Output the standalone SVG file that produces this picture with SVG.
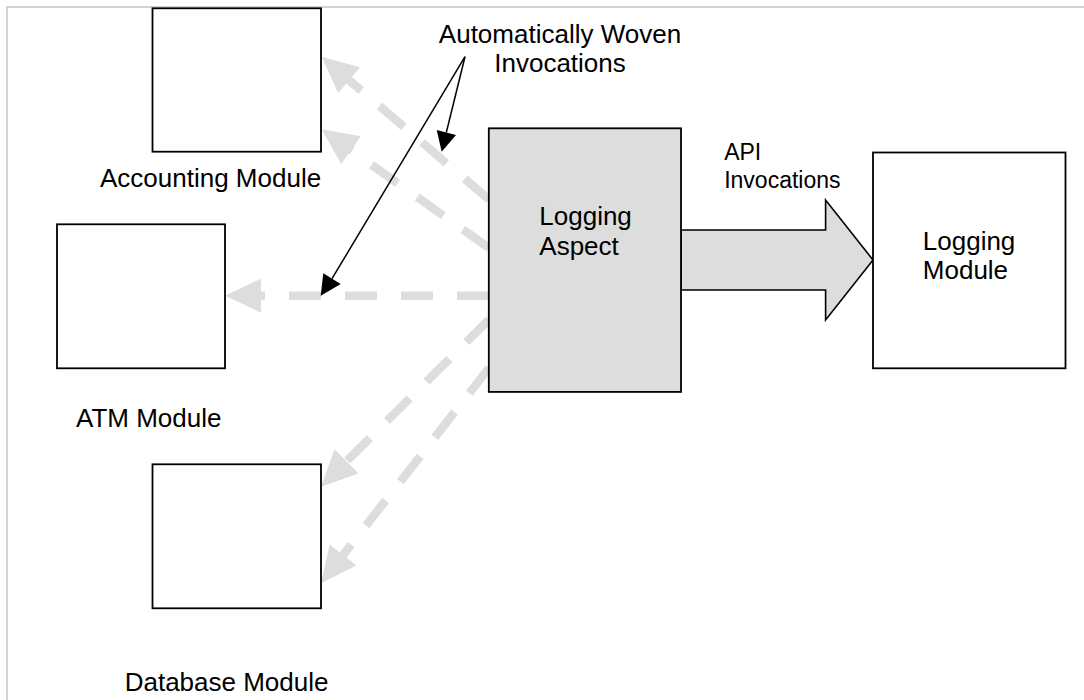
<svg xmlns="http://www.w3.org/2000/svg" width="1084" height="700" viewBox="0 0 1084 700">
  <style>
    .frame { fill: none; stroke: #c8c8c8; stroke-width: 1.6; }
    .box { fill: #ffffff; stroke: #000000; stroke-width: 1.8; }
    .aspect { fill: #dddddd; stroke: #000000; stroke-width: 1.8; }
    .label { font-family: "Liberation Sans", Arial, sans-serif; font-size: 26px; fill: #000000; }
    .small { font-size: 23px; }
    .woven { fill: none; stroke: #dddddd; stroke-width: 8.5; stroke-dasharray: 32 24; }
    .woven-head { fill: #dddddd; stroke: none; }
    .callout { fill: none; stroke: #000000; stroke-width: 1.5; }
    .callout-head { fill: #000000; stroke: none; }
    .api { fill: #dddddd; stroke: #000000; stroke-width: 1.6; stroke-linejoin: miter; }
  </style>

  <!-- page frame -->
  <rect class="frame" x="7" y="7" width="1100" height="720"/>

  <g id="connectors">
    <!-- woven invocations from the aspect to each module -->
    <line class="woven" x1="489" y1="199.5" x2="344.5" y2="76.2"/>
    <polygon class="woven-head" points="321.7,56.7 360.1,67.2 338.1,93.0"/>

    <line class="woven" x1="489" y1="248" x2="346.2" y2="146.7"/>
    <polygon class="woven-head" points="321.7,129.3 360.9,136.2 341.2,164.0"/>

    <line class="woven" x1="489" y1="295.7" x2="255" y2="295.7"/>
    <polygon class="woven-head" points="225,295.7 261,278.7 261,312.7"/>

    <line class="woven" x1="489" y1="319.5" x2="342.3" y2="465.5"/>
    <polygon class="woven-head" points="321,486.7 334.5,449.3 358.5,473.4"/>

    <line class="woven" x1="489" y1="368" x2="339.5" y2="559.6"/>
    <polygon class="woven-head" points="321,583.3 329.7,544.4 356.5,565.4"/>

    <!-- callout pointers for the woven-invocation label -->
    <line class="callout" x1="465" y1="56.7" x2="332" y2="278.7"/>
    <polygon class="callout-head" points="320.7,295.7 323.3,273.3 340.7,284"/>
    <line class="callout" x1="465" y1="56.7" x2="446.3" y2="132.5"/>
    <polygon class="callout-head" points="441.7,151.7 436.7,130 456,135"/>

    <!-- explicit API call: block arrow -->
    <polygon class="api" points="681,230 825.6,230 825.6,200 873,260 825.6,320 825.6,290 681,290"/>
  </g>

  <g id="accounting-module">
    <rect class="box" x="152.5" y="8.3" width="168.5" height="143.4"/>
    <text class="label" x="100" y="187">Accounting Module</text>
  </g>

  <g id="atm-module">
    <rect class="box" x="57" y="224.3" width="168" height="144"/>
    <text class="label" x="76" y="426.7">ATM Module</text>
  </g>

  <g id="database-module">
    <rect class="box" x="152.5" y="464.3" width="168.5" height="144"/>
    <text class="label" x="124.7" y="690.7">Database Module</text>
  </g>

  <g id="logging-aspect">
    <rect class="aspect" x="488.8" y="128.3" width="192.2" height="263.6"/>
    <text class="label" x="539.3" y="225">Logging</text>
    <text class="label" x="539.3" y="255">Aspect</text>
  </g>

  <g id="logging-module">
    <rect class="box" x="873" y="152.5" width="192.5" height="215.8"/>
    <text class="label" x="922.8" y="250">Logging</text>
    <text class="label" x="922.8" y="279.3">Module</text>
  </g>

  <g id="woven-label">
    <text class="label" x="560" y="43" text-anchor="middle">Automatically Woven</text>
    <text class="label" x="560" y="71.7" text-anchor="middle">Invocations</text>
  </g>

  <g id="api-label">
    <text class="label small" x="724.2" y="160">API</text>
    <text class="label small" x="724.2" y="187.7">Invocations</text>
  </g>
</svg>
